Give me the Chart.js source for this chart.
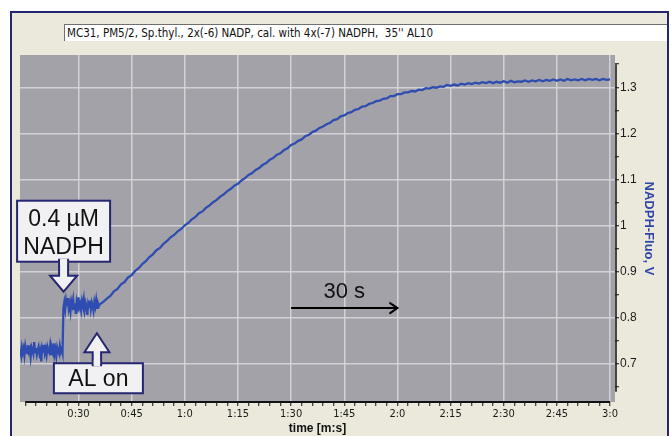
<!DOCTYPE html>
<html>
<head>
<meta charset="utf-8">
<script src="https://cdn.jsdelivr.net/npm/chart.js@4.4.1/dist/chart.umd.min.js"></script>
<style>
  html, body { margin: 0; padding: 0; background: #fff; overflow: hidden; }
  #wrap { position: relative; width: 671px; height: 436px; overflow: hidden; }
  #panel {
    position: absolute; left: 10px; top: 11px; width: 655px; height: 460px;
    border: 2px solid #26266f; border-bottom: none; background: #ebe8dc;
  }
  #caption {
    position: absolute; left: 64px; top: 24px; width: 603px; height: 17px;
    box-sizing: border-box; padding-left: 2px;
    background: #fff; border-top: 1px solid #6f6f6f; border-left: 1px solid #6f6f6f;
    font: 11.5px 'Liberation Sans Narrow', 'DejaVu Sans Condensed', sans-serif;
    line-height: 16px; color: #111; white-space: pre;
  }
  #chart { position: absolute; left: 0; top: 0; }
</style>
</head>
<body>
<div id="wrap">
  <div id="panel"></div>
  <div id="caption">MC31, PM5/2, Sp.thyl., 2x(-6) NADP, cal. with 4x(-7) NADPH,  35'' AL10</div>
  <canvas id="chart" width="671" height="436"></canvas>
</div>
<script>
// NADPH fluorescence trace, V (time in seconds)
const baselineStart = 13.5, baselineStep = 0.25;
const baselineFluo = [
  0.731, 0.722, 0.737, 0.725, 0.734, 0.719, 0.739, 0.728, 0.724, 0.741,
  0.727, 0.733, 0.716, 0.736, 0.729, 0.722, 0.748, 0.726, 0.735, 0.721,
  0.731, 0.738, 0.723, 0.730, 0.706, 0.735, 0.727, 0.742, 0.724, 0.733,
  0.720, 0.737, 0.729, 0.725, 0.740, 0.722, 0.734, 0.726, 0.745, 0.721,
  0.732, 0.718, 0.736, 0.728, 0.723, 0.739, 0.727, 0.733, 0.724
];

// after NADPH addition, before actinic light
const plateauStart = 25.75, plateauStep = 0.25;
const plateauFluo = [
  0.822, 0.834, 0.819, 0.838, 0.826, 0.843, 0.821, 0.831, 0.815, 0.836,
  0.827, 0.840, 0.820, 0.832, 0.809, 0.835, 0.825, 0.845, 0.823, 0.830,
  0.817, 0.837, 0.828, 0.841, 0.819, 0.833, 0.826, 0.807, 0.831, 0.824,
  0.838, 0.820, 0.834, 0.827, 0.816, 0.835, 0.825, 0.839, 0.822, 0.832,
  0.826, 0.830
];

// light on: NADP reduction
const riseStart = 37, riseStep = 1;
const riseFluo = [
  0.835, 0.842, 0.848, 0.858, 0.863, 0.873, 0.878, 0.888, 0.893, 0.902,
  0.908, 0.917, 0.923, 0.932, 0.938, 0.947, 0.952, 0.961, 0.967, 0.975,
  0.980, 0.988, 0.993, 1.001, 1.006, 1.014, 1.019, 1.027, 1.031, 1.039,
  1.044, 1.051, 1.056, 1.063, 1.068, 1.075, 1.080, 1.087, 1.091, 1.098,
  1.103, 1.110, 1.114, 1.121, 1.125, 1.132, 1.136, 1.143, 1.147, 1.154,
  1.157, 1.164, 1.168, 1.175, 1.178, 1.184, 1.187, 1.194, 1.197, 1.203,
  1.206, 1.212, 1.215, 1.220, 1.223, 1.229, 1.231, 1.237, 1.239, 1.244,
  1.246, 1.251, 1.253, 1.258, 1.259, 1.264, 1.266, 1.270, 1.271, 1.275,
  1.276, 1.281, 1.281, 1.285, 1.285, 1.289, 1.289, 1.292, 1.291, 1.295,
  1.294, 1.298, 1.297, 1.300, 1.299, 1.302, 1.301, 1.305, 1.303, 1.306,
  1.304, 1.308, 1.306, 1.309, 1.307, 1.310, 1.308, 1.311, 1.309, 1.312,
  1.309, 1.312, 1.310, 1.313, 1.310, 1.314, 1.311, 1.313, 1.312, 1.315,
  1.312, 1.315, 1.313, 1.316, 1.313, 1.316, 1.314, 1.317, 1.314, 1.317,
  1.314, 1.318, 1.315, 1.317, 1.315, 1.318, 1.315, 1.318, 1.316, 1.318,
  1.315, 1.318, 1.316, 1.317
];

const xLabels = { 30: '0:30', 45: '0:45', 60: '1:0', 75: '1:15', 90: '1:30', 105: '1:45',
                  120: '2:0', 135: '2:15', 150: '2:30', 165: '2:45', 180: '3:0' };
const yMajor = [0.7, 0.8, 0.9, 1.0, 1.1, 1.2, 1.3];
const yLabels = ['0.7', '0.8', '0.9', '1', '1.1', '1.2', '1.3'];

// markers drawn on top of the trace
const nadphMark = { t: 25.8, v: 0.857, lines: ['0.4 µM', 'NADPH'] };
const alOnMark = { t: 35.2, v: 0.767, text: 'AL on' };
const spanBar = { from: 90, to: 120, v: 0.8215, labelV: 0.856, text: '30 s' };

const NARROW = "'Liberation Sans Narrow', 'DejaVu Sans Condensed', sans-serif";
const ARIAL = "'Liberation Sans', Arial, sans-serif";
const NAVY = '#262673';
const GRID = 'rgba(214,214,220,0.9)';

function toPoints(start, step, values) {
  return values.map((v, i) => ({ x: start + i * step, y: v }));
}
const trace = [].concat(
  toPoints(baselineStart, baselineStep, baselineFluo),
  toPoints(plateauStart, plateauStep, plateauFluo),
  toPoints(riseStart, riseStep, riseFluo)
);

// tick marks every 3 s on x and every 0.05 V on y
const xTickSeconds = [];
for (let s = 15; s <= 180; s += 3) xTickSeconds.push(s);
const yTickValues = [];
for (let k = 13; k <= 27; k++) yTickValues.push(k * 0.05);

function isMajorY(v) { return yMajor.findIndex(m => Math.abs(m - v) < 1e-6); }
function isMajorX(v) { return xLabels[v] !== undefined; }

const plotBackground = {
  id: 'plotBackground',
  beforeDraw(chart) {
    const { ctx, chartArea: a } = chart;
    ctx.save();
    ctx.fillStyle = '#a2a2a8';
    ctx.fillRect(a.left, a.top, a.right - a.left, a.bottom - a.top);
    ctx.restore();
  }
};

function hollowArrow(ctx, tipX, tipY, dir, headLen, headHalf, shaftHalf, shaftLen) {
  const baseY = tipY - dir * headLen;
  const endY = baseY - dir * shaftLen;
  ctx.beginPath();
  ctx.moveTo(tipX, tipY);
  ctx.lineTo(tipX + headHalf, baseY);
  ctx.lineTo(tipX + shaftHalf, baseY);
  ctx.lineTo(tipX + shaftHalf, endY);
  ctx.lineTo(tipX - shaftHalf, endY);
  ctx.lineTo(tipX - shaftHalf, baseY);
  ctx.lineTo(tipX - headHalf, baseY);
  ctx.closePath();
  ctx.fill();
  ctx.stroke();
}

const axesAndNotes = {
  id: 'axesAndNotes',
  afterDatasetsDraw(chart) {
    const { ctx, chartArea: a } = chart;
    const xs = chart.scales.x, ys = chart.scales.y;
    ctx.save();

    // axis lines
    ctx.strokeStyle = '#111';
    ctx.lineWidth = 2;
    ctx.beginPath();
    ctx.moveTo(xs.getPixelForValue(15), a.bottom);
    ctx.lineTo(xs.getPixelForValue(180), a.bottom);
    ctx.stroke();
    ctx.lineWidth = 1.5;
    ctx.beginPath();
    ctx.moveTo(a.right + 1, ys.getPixelForValue(0.64));
    ctx.lineTo(a.right + 1, ys.getPixelForValue(1.35));
    ctx.stroke();

    // 30 s scale bar
    const bx1 = xs.getPixelForValue(spanBar.from), bx2 = xs.getPixelForValue(spanBar.to);
    const by = ys.getPixelForValue(spanBar.v);
    ctx.strokeStyle = '#000';
    ctx.lineWidth = 2;
    ctx.beginPath();
    ctx.moveTo(bx1, by);
    ctx.lineTo(bx2, by);
    ctx.moveTo(bx2 - 8, by - 5.5);
    ctx.lineTo(bx2, by);
    ctx.lineTo(bx2 - 8, by + 5.5);
    ctx.stroke();
    ctx.fillStyle = '#111';
    ctx.font = '22px ' + ARIAL;
    ctx.textAlign = 'center';
    ctx.textBaseline = 'middle';
    ctx.fillText(spanBar.text, xs.getPixelForValue((spanBar.from + spanBar.to) / 2), ys.getPixelForValue(spanBar.labelV));

    ctx.lineWidth = 2;
    ctx.strokeStyle = NAVY;
    ctx.lineJoin = 'miter';

    // NADPH addition: box above, arrow pointing down
    const nx = xs.getPixelForValue(nadphMark.t), ny = ys.getPixelForValue(nadphMark.v);
    const b1 = { l: nx - 46.5, t: ny - 91, w: 93, h: 61 };
    ctx.fillStyle = '#f1f1f3';
    ctx.fillRect(b1.l, b1.t, b1.w, b1.h);
    ctx.strokeRect(b1.l, b1.t, b1.w, b1.h);
    hollowArrow(ctx, nx, ny, 1, 16, 13.5, 4.5, 16);
    ctx.fillRect(nx - 3.5, b1.t + b1.h - 3, 7, 6);
    ctx.fillStyle = '#111';
    ctx.font = '23px ' + ARIAL;
    ctx.fillText(nadphMark.lines[0], nx, b1.t + 19);
    ctx.fillText(nadphMark.lines[1], nx, b1.t + 47);

    // actinic light on: box below, arrow pointing up
    const ax = xs.getPixelForValue(alOnMark.t), ay = ys.getPixelForValue(alOnMark.v);
    const b2 = { l: ax - 43, t: ay + 30, w: 89, h: 30 };
    ctx.fillStyle = '#f1f1f3';
    ctx.fillRect(b2.l, b2.t, b2.w, b2.h);
    ctx.strokeRect(b2.l, b2.t, b2.w, b2.h);
    hollowArrow(ctx, ax, ay, -1, 19, 12.5, 4.2, 13);
    ctx.fillRect(ax - 3.2, b2.t - 3, 6.4, 6);
    ctx.fillStyle = '#111';
    ctx.fillText(alOnMark.text, b2.l + b2.w / 2, b2.t + b2.h / 2 + 1);

    ctx.restore();
  }
};

new Chart(document.getElementById('chart'), {
  type: 'line',
  data: {
    datasets: [{
      data: trace,
      borderColor: '#2f4db0',
      borderWidth: 2.3,
      pointRadius: 0,
      tension: 0
    }]
  },
  options: {
    responsive: false,
    animation: false,
    layout: { padding: { left: 20, top: 55, right: 0, bottom: 0 } },
    plugins: { legend: { display: false }, tooltip: { enabled: false } },
    scales: {
      x: {
        type: 'linear',
        position: 'bottom',
        min: 13.5,
        max: 181.4,
        afterBuildTicks: (scale) => { scale.ticks = xTickSeconds.map(v => ({ value: v })); },
        afterFit: (scale) => { scale.height = 34; },
        border: { display: false },
        grid: {
          color: (c) => (c.tick && isMajorX(c.tick.value) ? GRID : 'rgba(0,0,0,0)'),
          lineWidth: 1.5,
          tickColor: '#111',
          tickLength: 4,
          tickWidth: 1
        },
        ticks: {
          autoSkip: false,
          maxRotation: 0,
          minRotation: 0,
          padding: 2,
          color: '#1a1a1a',
          font: { family: NARROW, size: 11 },
          callback: (v) => xLabels[v] || ''
        },
        title: {
          display: true,
          text: 'time [m:s]',
          color: '#111',
          font: { family: ARIAL, size: 12, weight: 'bold' },
          padding: { top: 0, bottom: 0 }
        }
      },
      y: {
        type: 'linear',
        position: 'right',
        min: 0.618,
        max: 1.37,
        afterBuildTicks: (scale) => { scale.ticks = yTickValues.map(v => ({ value: v })); },
        afterFit: (scale) => { scale.width = 56; },
        border: { display: false },
        grid: {
          color: (c) => (c.tick && isMajorY(c.tick.value) >= 0 ? GRID : 'rgba(0,0,0,0)'),
          lineWidth: 1.5,
          tickColor: '#111',
          tickLength: 4,
          tickWidth: 1
        },
        ticks: {
          autoSkip: false,
          padding: 1,
          color: '#1a1a1a',
          font: { family: ARIAL, size: 12 },
          callback: (v) => { const i = isMajorY(v); return i >= 0 ? yLabels[i] : ''; }
        },
        title: {
          display: true,
          text: 'NADPH-Fluo, V',
          color: '#2f45a8',
          font: { family: ARIAL, size: 13, weight: 'bold' },
          padding: { top: 15, bottom: 0 }
        }
      }
    }
  },
  plugins: [plotBackground, axesAndNotes]
});
</script>
</body>
</html>
